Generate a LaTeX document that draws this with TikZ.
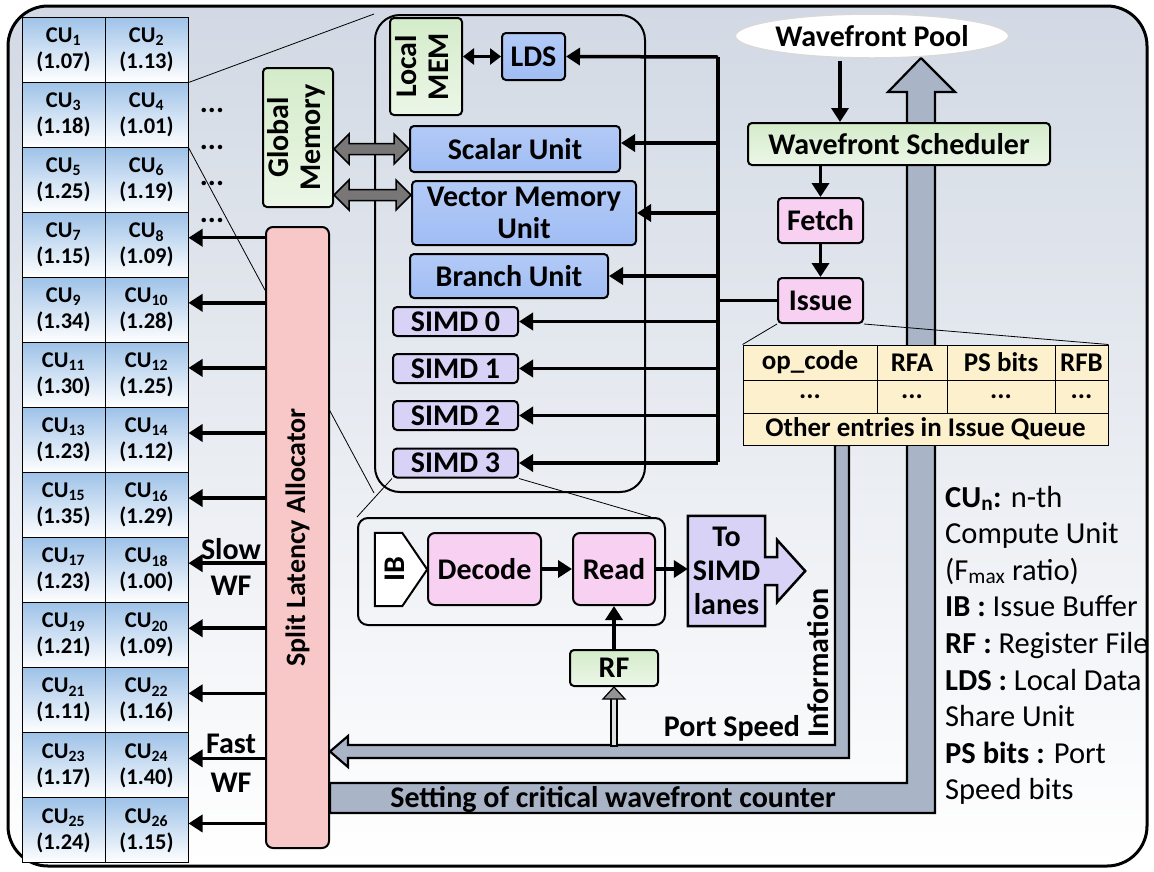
\documentclass[tikz,border=0pt]{standalone}
\usepackage{fontspec}
\setmainfont{Carlito}
\usepackage{graphicx}
\usepackage{tikz}
\usetikzlibrary{arrows.meta,positioning,calc,shapes.geometric,backgrounds}

\definecolor{bgtop}{RGB}{210,217,228}
\definecolor{cublue}{RGB}{158,194,232}
\definecolor{unitblue}{RGB}{160,189,244}
\definecolor{memgreen}{RGB}{212,236,202}
\definecolor{stagepink}{RGB}{248,208,242}
\definecolor{simdpurple}{RGB}{216,210,246}
\definecolor{allocpink}{RGB}{248,200,200}
\definecolor{busgray}{RGB}{169,180,198}
\definecolor{memgray}{RGB}{120,118,118}
\definecolor{queueyellow}{RGB}{253,240,204}

\tikzset{
  blockbox/.style={draw, line width=2pt, rounded corners=4pt, inner sep=0pt, align=center,
    font=\bfseries\fontsize{30}{32}\selectfont},
  unitbox/.style={blockbox, top color=unitblue!80, bottom color=unitblue},
  membox/.style={blockbox, top color=memgreen, bottom color=memgreen!45!white},
  stagebox/.style={blockbox, fill=stagepink},
  simdbox/.style={blockbox, fill=simdpurple, minimum width=125pt, minimum height=29pt},
  allocbox/.style={blockbox, rounded corners=7pt, fill=allocpink, font=\bfseries\fontsize{28}{30}\selectfont},
  cucell/.style={draw, line width=1pt, top color=cublue, bottom color=white, minimum width=83pt,
    minimum height=65pt, inner sep=0pt, align=center, font=\bfseries\fontsize{22.5}{26}\selectfont},
  qcell/.style={draw, line width=1pt, fill=queueyellow, inner sep=0pt, font=\bfseries\fontsize{27}{29}\selectfont},
  lbl/.style={inner sep=0pt, align=center, font=\bfseries\fontsize{30}{34}\selectfont},
  legendtxt/.style={inner sep=0pt, font=\fontsize{30.5}{34}\selectfont},
  wire/.style={line width=3.5pt},
  wirearr/.style={wire, -{Triangle[length=14pt,width=17pt]}},
  zoomline/.style={line width=0.8pt},
  fatarr/.style={draw, line width=2.2pt, fill=busgray},
}

% gray double arrow between memory and units
\newcommand\memarrow[2]{%
  \draw[line width=1.5pt, fill=memgray] let \p1=#1, \p2=#2 in
    (\x1,\y1) -- (\x1+15pt,\y1+15pt) -- (\x1+15pt,\y1+5.5pt) -- (\x2-15pt,\y1+5.5pt)
    -- (\x2-15pt,\y1+15pt) -- (\x2,\y1) -- (\x2-15pt,\y1-15pt) -- (\x2-15pt,\y1-5.5pt)
    -- (\x1+15pt,\y1-5.5pt) -- (\x1+15pt,\y1-15pt) -- cycle;}

\begin{document}
\begin{tikzpicture}[x=1pt,y=-1pt]
  \useasboundingbox (0,0) rectangle (1154,871);
  \begin{scope}[on background layer]
    \shade[top color=bgtop, bottom color=white, draw=black, line width=3pt, rounded corners=40pt]
      (8,6) rectangle (1147,866);
  \end{scope}

  % compute units and their Fmax ratio
  \foreach \v [count=\n] in {1.07,1.13,1.18,1.01,1.25,1.19,1.15,1.09,1.34,1.28,1.30,1.25,1.23,
      1.12,1.35,1.29,1.23,1.00,1.21,1.09,1.11,1.16,1.17,1.40,1.24,1.15}{
    \pgfmathtruncatemacro\r{(\n-1)/2}
    \pgfmathtruncatemacro\c{mod(\n-1,2)}
    \node[cucell] (cu\n) at (63.5+83*\c, 49.5+65.08*\r) {CU\textsubscript{\n}\\(\v)};
  }
  \foreach \y [count=\i] in {110,147,183,220}
    \node[lbl] (dots\i) at (212,\y) {...};

  \node[membox, minimum width=70pt, minimum height=139pt] (gmem) at (298,137.5)
    {\rotatebox{90}{\begin{tabular}{@{}c@{}}Global\\Memory\end{tabular}}};
  \node[allocbox, minimum width=63pt, minimum height=621pt] (alloc) at (297.5,537.5)
    {\rotatebox{90}{Split Latency Allocator}};

  % compute unit internals
  \node[draw, line width=2pt, rounded corners=25pt, minimum width=270pt, minimum height=477pt] (cubox) at (510,253.5) {};
  \node[membox, minimum width=72pt, minimum height=97pt] (localmem) at (426,66.5)
    {\rotatebox{90}{\begin{tabular}{@{}c@{}}Local\\MEM\end{tabular}}};
  \node[unitbox, minimum width=63pt, minimum height=47pt] (lds) at (533.5,56.5) {LDS};
  \node[unitbox, minimum width=210pt, minimum height=46pt] (scalar) at (515,149) {Scalar Unit};
  \node[unitbox, minimum width=224pt, minimum height=64pt] (vmu) at (524,213) {Vector Memory\\Unit};
  \node[unitbox, minimum width=198pt, minimum height=44pt] (branch) at (509,276) {Branch Unit};
  \foreach \i/\y in {0/321.5,1/368.5,2/415.5,3/463}
    \node[simdbox] (simd\i) at (455.5,\y) {SIMD \i};

  % front end
  \node[ellipse, fill=white, draw=gray!30, line width=1.5pt, minimum width=212pt, minimum height=44pt, lbl] (pool) at (872,36) {Wavefront Pool};
  \node[membox, minimum width=302pt, minimum height=42pt] (sched) at (899,144) {Wavefront Scheduler};
  \node[stagebox, minimum width=85pt, minimum height=45pt] (fetch) at (820.5,220.5) {Fetch};
  \node[stagebox, minimum width=85pt, minimum height=45pt] (issue) at (820.5,300.5) {Issue};

  % issue queue entry
  \foreach \nm/\cx/\w/\t in {opc/810/134/op\_code, rfa/912/70/RFA, psb/1001/108/PS bits, rfb/1081.5/53/RFB}{
    \node[qcell, minimum width=\w pt, minimum height=35pt] (\nm) at (\cx,362.5) {\t};
    \node[qcell, minimum width=\w pt, minimum height=33pt] (\nm dots) at (\cx,396.5) {...};
  }
  \node[qcell, minimum width=365pt, minimum height=32pt] (other) at (925.5,429) {Other entries in Issue Queue};

  % SIMD pipeline
  \node[draw, line width=2pt, rounded corners=10pt, minimum width=307pt, minimum height=107pt] (detail) at (511.5,571.5) {};
  \node[lbl, minimum width=52pt, minimum height=73pt] (ib) at (401,569.5) {\hspace*{-12pt}\rotatebox{90}{IB}};
  \node[stagebox, rounded corners=7pt, minimum width=113pt, minimum height=72pt] (decode) at (484.5,569) {Decode};
  \node[stagebox, rounded corners=7pt, minimum width=82pt, minimum height=72pt] (read) at (614,569) {Read};
  \node[lbl, minimum width=77pt, minimum height=110pt] (tosimd) at (726.5,571) {To\\SIMD\\lanes};
  \node[membox, minimum width=88pt, minimum height=36pt] (rf) at (614,668) {RF};

  % labels
  \node[lbl] (slow) at (231,549) {Slow};
  \node[lbl] (slowwf) at (231,586) {WF};
  \node[lbl] (fast) at (231,744) {Fast};
  \node[lbl] (fastwf) at (231,783) {WF};
  \node[lbl] (portspeed) at (732,728) {Port Speed};
  \node[lbl] (information) at (818,663) {\rotatebox{90}{Information}};
  \node[lbl] (critical) at (613,799) {Setting of critical wavefront counter};
  \foreach \t [count=\i] in {{\textbf{CU\textsubscript{n}:} n-th}, Compute Unit, {(F\textsubscript{max} ratio)},
      {\textbf{IB :} Issue Buffer}, {\textbf{RF :} Register File}, {\textbf{LDS :} Local Data},
      Share Unit, {\textbf{PS bits :} Port}, Speed bits}
    \node[legendtxt, anchor=base west] (leg\i) at (945,507+36.6*\i-36.6) {\t};

  % allocator to compute units
  \foreach \n in {8,10,...,26}
    \draw[wirearr] ($(alloc.west |- cu\n.east)+(0,-7)$) -- ($(cu\n.east)+(0,-7)$);

  % issue bus
  \coordinate (bustop) at (718,57);
  \coordinate (busbot) at (718,462);
  \coordinate (scalarin) at ($(scalar.east)+(0,-6)$);
  \draw[wire] (bustop) -- (busbot);
  \draw[wirearr] (bustop) -- (lds.east);
  \draw[wirearr] (scalarin -| bustop) -- (scalarin);
  \draw[wirearr] (vmu.east -| bustop) -- (vmu.east);
  \draw[wirearr] (branch.east -| bustop) -- (branch.east);
  \foreach \i in {0,...,3}
    \draw[wirearr] (simd\i.east -| bustop) -- (simd\i.east);
  \draw[wire] (issue.west) -- (issue.west -| bustop);
  \draw[wire, {Triangle[length=11pt,width=16pt]}-{Triangle[length=11pt,width=16pt]}]
    (localmem.east |- lds.west) -- (lds.west);

  % memory paths
  \coordinate (vmuin) at ($(vmu.west)+(0,-18)$);
  \memarrow{(gmem.east |- scalar.west)}{(scalar.west)}
  \memarrow{(gmem.east |- vmuin)}{(vmuin)}

  % front end flow
  \coordinate (poolout) at ($(pool.south)+(-32,2)$);
  \draw[wirearr] (poolout) -- (poolout |- sched.north);
  \draw[wirearr] (sched.south -| fetch.north) -- (fetch.north);
  \draw[wirearr] (fetch) -- (issue);
  \draw[wirearr] (decode) -- (read);
  \draw[wirearr] (read.east) -- (read.east -| tosimd.west);
  \draw[wirearr] (rf) -- (read);

  % RF from port speed bar
  \draw[line width=1.2pt, fill=gray!25] ($(rf.south)+(-3,11)$) rectangle ($(rf.south)+(3,59)$);
  \draw[line width=1.2pt, fill=gray!85] (rf.south) -- ++(11,12) -- ++(-22,0) -- cycle;

  \begin{scope}[on background layer]
    % feedback paths
    \draw[fatarr] (alloc.east |- 0,783) -- (907,783) -- (907,92) -- (888,92) -- (921,58)
      -- (955,92) -- (935,92) -- (935,813) -- (alloc.east |- 0,813) -- cycle;
    \draw[fatarr] (849,445) -- (849,758) -- (348,758) -- (348,767) -- (alloc.east |- 0,751.5)
      -- (348,736) -- (348,745) -- (835,745) -- (835,445) -- cycle;
    % shapes behind text
    \draw[line width=2pt, fill=white] (ib.north west) -- ($(ib.north east)+(-25,0)$) -- (ib.east)
      -- ($(ib.south east)+(-25,0)$) -- (ib.south west) -- cycle;
    \draw[line width=2.5pt, fill=simdpurple] (tosimd.north west) -- (tosimd.north east)
      -- ($(tosimd.east)+(0,-14)$) -- ++(12,0) -- ++(0,-17) -- ($(tosimd.east)+(40,0)$)
      -- ($(tosimd.east)+(12,31)$) -- ++(0,-17) -- ($(tosimd.east)+(0,14)$)
      -- (tosimd.south east) -- (tosimd.south west) -- cycle;
    % zoom lines
    \draw[zoomline] (cu2.south east) -- (cubox.north west);
    \draw[zoomline] (cu4.south east) -- (cubox.south west);
    \draw[zoomline] (issue.south west) -- (opc.north west);
    \draw[zoomline] (issue.south east) -- (rfb.north east);
    \draw[zoomline] (simd3.south west) -- (detail.north west);
    \draw[zoomline] (simd3.south east) -- ($(detail.north east)+(-15,0)$);
  \end{scope}
\end{tikzpicture}
\end{document}
